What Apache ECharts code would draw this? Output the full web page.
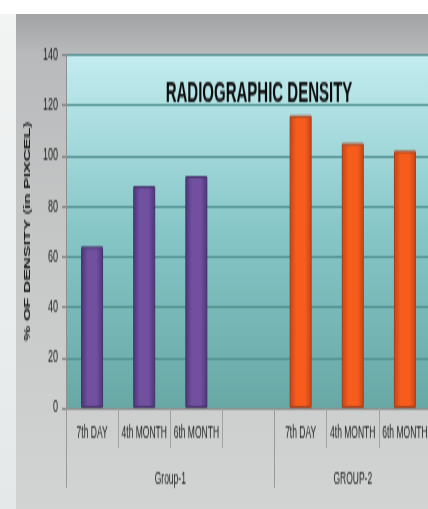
<!DOCTYPE html>
<html>
<head>
<meta charset="utf-8">
<script src="https://cdn.jsdelivr.net/npm/echarts@6/dist/echarts.min.js"></script>
<style>
  html, body { margin: 0; padding: 0; background: #ffffff; overflow: hidden; }
  /* the reference picture is stretched vertically; reproduce that look */
  #wrap { position: absolute; left: 0; top: 0; width: 428px; height: 254.5px; transform: scaleY(2); transform-origin: 0 0; }
  #strip { position: absolute; left: 0; top: 6.5px; width: 16px; height: 248px; background: linear-gradient(#f2f4f4, #e4e8e8); }
  #chart { position: absolute; left: 16px; top: 6.5px; width: 412px; height: 248px; }
</style>
</head>
<body>
<div id="wrap">
  <div id="strip"></div>
  <div id="chart"></div>
</div>
<script>
// ---- data ----
const categories = ['7th DAY', '4th MONTH', '6th MONTH', '', '7th DAY', '4th MONTH', '6th MONTH'];
const group1Values = [64, 88, 92, null, null, null, null];
const group2Values = [null, null, null, null, 116, 105, 102];
const groupLabels = ['Group-1', 'GROUP-2'];
const groupCenters = [2, 5.5];
const groupBounds = [0, 4, 7];
const yTicks = { min: 0, max: 140, interval: 20 };
const titleText = 'RADIOGRAPHIC DENSITY';
const yName = '% OF DENSITY (in PIXCEL)';

const FONT = '"Liberation Sans", Arial, sans-serif';

function barGrad(edge, mid) {
  return new echarts.graphic.LinearGradient(0, 0, 1, 0, [
    { offset: 0, color: edge },
    { offset: 0.3, color: mid },
    { offset: 0.7, color: mid },
    { offset: 1, color: edge }
  ]);
}

const chart = echarts.init(document.getElementById('chart'), null, { renderer: 'canvas' });
chart.setOption({
  animation: false,
  backgroundColor: new echarts.graphic.LinearGradient(0, 0, 0, 1, [
    { offset: 0, color: '#a2a3a4' },
    { offset: 0.08, color: '#b9babb' },
    { offset: 0.5, color: '#c7c8c8' },
    { offset: 1, color: '#d2d3d3' }
  ]),
  title: {
    text: titleText,
    left: 238,
    top: 27,
    textAlign: 'center',
    textStyle: { fontFamily: FONT, fontWeight: 900, fontSize: 15, color: '#0c0c0c' }
  },
  grid: {
    left: 50, right: -3, top: 20.5, bottom: 51,
    outerBoundsMode: 'none',
    containLabel: false,
    show: true,
    borderWidth: 0,
    backgroundColor: new echarts.graphic.LinearGradient(0, 0, 0, 1, [
      { offset: 0, color: '#c3ecf0' },
      { offset: 0.5, color: '#86c6c7' },
      { offset: 1, color: '#68a8a5' }
    ])
  },
  xAxis: [
    {
      type: 'category',
      data: categories,
      boundaryGap: true,
      axisLine: { show: true, lineStyle: { color: '#8f8f8f', width: 1 } },
      axisTick: { show: true, interval: 0, length: 20, lineStyle: { color: '#a2a2a2' } },
      axisLabel: { interval: 0, margin: 8, fontFamily: FONT, fontSize: 8.5, color: '#1e1e1e' }
    },
    {
      type: 'value',
      min: 0, max: 7,
      position: 'bottom',
      axisLine: { show: false },
      splitLine: { show: false },
      axisTick: { show: true, customValues: groupBounds, length: 40, lineStyle: { color: '#9a9a9a' } },
      axisLabel: {
        customValues: groupCenters,
        margin: 31,
        fontFamily: FONT, fontSize: 8.5, color: '#1e1e1e',
        formatter: function (v) { return groupLabels[groupCenters.indexOf(v)]; }
      }
    }
  ],
  yAxis: {
    type: 'value',
    min: yTicks.min, max: yTicks.max, interval: yTicks.interval,
    name: yName,
    nameLocation: 'middle',
    nameGap: 32,
    nameTextStyle: { fontFamily: FONT, fontWeight: 'bold', fontSize: 8.5, color: '#1a1a1a' },
    axisLine: { show: true, lineStyle: { color: '#8f8f8f' } },
    axisTick: { show: true, length: 4, lineStyle: { color: '#808080' } },
    axisLabel: { margin: 8, fontFamily: FONT, fontSize: 9, color: '#1e1e1e' },
    splitLine: { lineStyle: { color: '#4f8f8f', width: 1 } }
  },
  series: [
    {
      type: 'bar',
      data: group1Values,
      barWidth: 22,
      barGap: '-100%',
      itemStyle: { color: barGrad('#4a3676', '#7150a0'), borderColor: '#45336a', borderWidth: 1 }
    },
    {
      type: 'bar',
      data: group2Values,
      barWidth: 22,
      itemStyle: { color: barGrad('#c4441a', '#f65d1c'), borderColor: '#a83e18', borderWidth: 1 }
    }
  ]
});
</script>
</body>
</html>
